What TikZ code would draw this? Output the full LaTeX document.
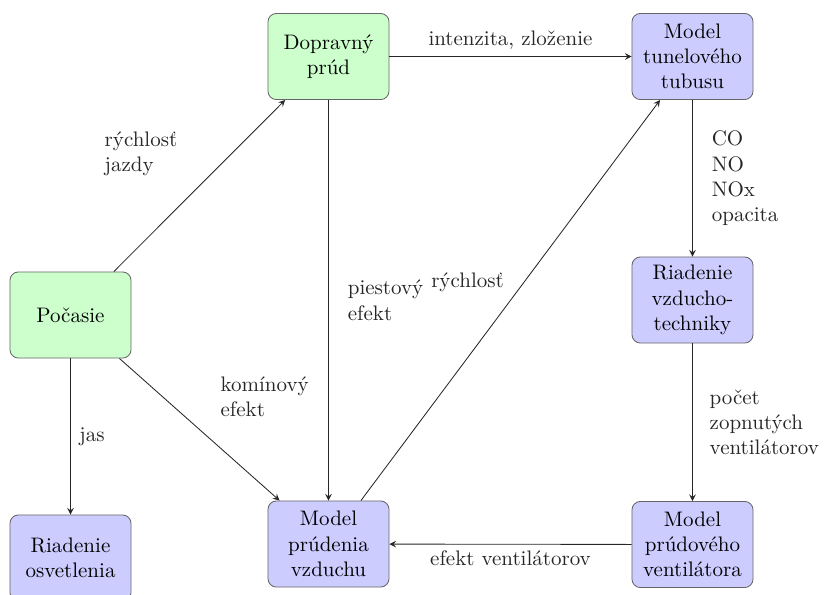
\documentclass[tikz,border=0pt]{standalone}
\usepackage{fontspec}
\usetikzlibrary{positioning}
\tikzset{%
  block/.style={rectangle,rounded corners=4pt,draw=black!60,
    align=center,minimum width=57.6pt,minimum height=41pt,inner sep=2pt},%
  weather block/.style={block,fill=green!20},%
  model block/.style={block,fill=blue!20},%
  flow/.style={->,>=stealth,black!85},%
  note/.style={align=left,inner sep=3pt}%
}
\begin{document}
\begin{tikzpicture}[x=0.476pt,y=-0.476pt] %
    \useasboundingbox (0,0) rectangle (824,594);%
    % inputs (green)
    \node[weather block] (pocasie) at (70.5,315) {Počasie};%
    \node[weather block] (doprava) at (328.5,56.5) {Dopravný\\prúd};%
    % models and control (blue)
    \node[model block] (tubus) at (692.5,56.5) {Model\\tunelového\\tubusu};%
    \node[model block] (vzt) at (692.5,300) {Riadenie\\vzducho-\\techniky};%
    \node[model block] (ventilator) at (692.5,544.5) {Model\\prúdového\\ventilátora};%
    \node[model block] (prudenie) at (328.5,544) {Model\\prúdenia\\vzduchu};%
    \node[model block] (osvetlenie) at (70.5,558) {Riadenie\\osvetlenia};%

    \draw[flow] (pocasie) -- node[note,midway,above left=2pt,xshift=-6pt]{rýchlosť\\jazdy} (doprava);%
    \draw[flow] (doprava) -- node[note,midway,above]{intenzita, zloženie} (tubus);%
    \draw[flow] (doprava) -- node[note,midway,right=6pt]{piestový\\efekt} (prudenie);%
    \draw[flow] (prudenie) -- node[note,midway,above left=0pt,yshift=1pt]{rýchlosť} (tubus);%
    \draw[flow] (pocasie) -- node[note,midway,above right=4pt,xshift=4pt]{komínový\\efekt} (prudenie);%
    \draw[flow] (pocasie) -- node[note,midway,right=1pt]{jas} (osvetlenie);%
    \draw[flow] (tubus) -- node[note,midway,right=6pt]{CO\\NO\\NOx\\opacita} (vzt);%
    \draw[flow] (vzt) -- node[note,midway,right=5pt]{počet\\zopnutých\\ventilátorov} (ventilator);%
    \draw[flow] (ventilator) -- node[note,midway,below]{efekt ventilátorov} (prudenie);%
  \end{tikzpicture}
\end{document}
